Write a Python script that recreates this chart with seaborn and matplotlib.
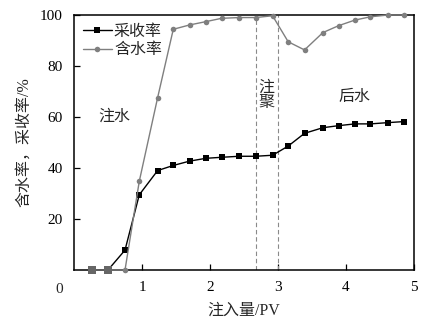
import numpy as np
import pandas as pd
import seaborn as sns
import matplotlib
matplotlib.use("Agg")
import matplotlib.pyplot as plt
from matplotlib.lines import Line2D

# injected volume (PV) and measured rates (%)
pv = [0.26, 0.50, 0.75, 0.96, 1.23, 1.46, 1.70, 1.94, 2.17, 2.43,
      2.67, 2.92, 3.15, 3.39, 3.66, 3.89, 4.13, 4.36, 4.62, 4.85]
recovery = [0, 0, 7.8, 29.5, 39.0, 41.0, 42.7, 43.8, 44.2, 44.6,
            44.6, 45.0, 48.6, 53.6, 55.8, 56.6, 57.3, 57.3, 57.8, 58.2]
watercut = [0, 0, 0, 34.8, 67.6, 94.4, 96.1, 97.4, 98.7, 99.0,
            99.0, 99.7, 89.5, 86.3, 93.1, 95.8, 98.0, 99.3, 100, 100]

polymer_start, polymer_end = 2.67, 3.0
x_ticks = [1, 2, 3, 4, 5]
y_ticks = [20, 40, 60, 80, 100]

sns.set_theme(style="ticks")
plt.rcParams["font.family"] = ["Liberation Serif", "Noto Sans CJK SC"]
plt.rcParams["axes.unicode_minus"] = False

df = pd.DataFrame({"pv": pv, "recovery": recovery, "watercut": watercut})

fig = plt.figure(figsize=(4.31, 3.28), dpi=100)
ax = fig.add_axes([74 / 431, 1 - 270 / 328, 340 / 431, 255 / 328])

grey = "#7f7f7f"
cjk = 11.5
sns.lineplot(data=df, x="pv", y="recovery", ax=ax, color="black", lw=1.0,
             marker="s", markersize=5, markeredgewidth=0, sort=False,
             clip_on=False, zorder=3)
sns.lineplot(data=df, x="pv", y="watercut", ax=ax, color=grey, lw=1.0,
             marker="o", markersize=4, markeredgewidth=0, sort=False,
             clip_on=False, zorder=4)

# points where both curves coincide at zero
both_zero = df[(df["recovery"] == 0) & (df["watercut"] == 0) & (df["pv"] < 0.7)]
sns.scatterplot(data=both_zero, x="pv", y="recovery", ax=ax, marker="s",
                s=30, color="#666666", linewidth=0, clip_on=False, zorder=5)

for xv in (polymer_start, polymer_end):
    ax.axvline(xv, color="#8a8a8a", lw=0.8, ls=(0, (4, 2.5)), zorder=2)

ax.set_xlim(0, 5)
ax.set_ylim(0, 100)
ax.set_xticks(x_ticks)
ax.set_yticks(y_ticks)
ax.tick_params(direction="in", length=4.5, width=0.9, labelsize=11,
               color="black", labelcolor="black")
ax.tick_params(axis="y", pad=8)
ax.tick_params(axis="x", pad=8)
for sp in ax.spines.values():
    sp.set_visible(True)
    sp.set_color("black")
    sp.set_linewidth(1.1)

ax.text(-0.22, -7.5, "0", fontsize=11, ha="center", va="center",
        transform=ax.transData, clip_on=False)

ax.set_xlabel("注入量/PV", fontsize=cjk, labelpad=6)
ax.set_ylabel("含水率，采收率/%", fontsize=cjk, labelpad=6)

ax.text(0.59, 60, "注水", fontsize=cjk, ha="center", va="center")
ax.text(2.83, 68.5, "注\n聚", fontsize=cjk, ha="center", va="center",
        linespacing=1.0)
ax.text(4.12, 67.8, "后水", fontsize=cjk, ha="center", va="center")

handles = [
    Line2D([], [], color="black", lw=1.0, marker="s", markersize=5,
           markeredgewidth=0),
    Line2D([], [], color=grey, lw=1.0, marker="o", markersize=4,
           markeredgewidth=0),
]
ax.legend(handles, ["采收率", "含水率"], loc="upper left", frameon=False,
          fontsize=cjk, handlelength=1.8, handletextpad=0.15,
          borderaxespad=0.35, borderpad=0.2, labelspacing=0.15)

fig.savefig("out.png", dpi=100)
